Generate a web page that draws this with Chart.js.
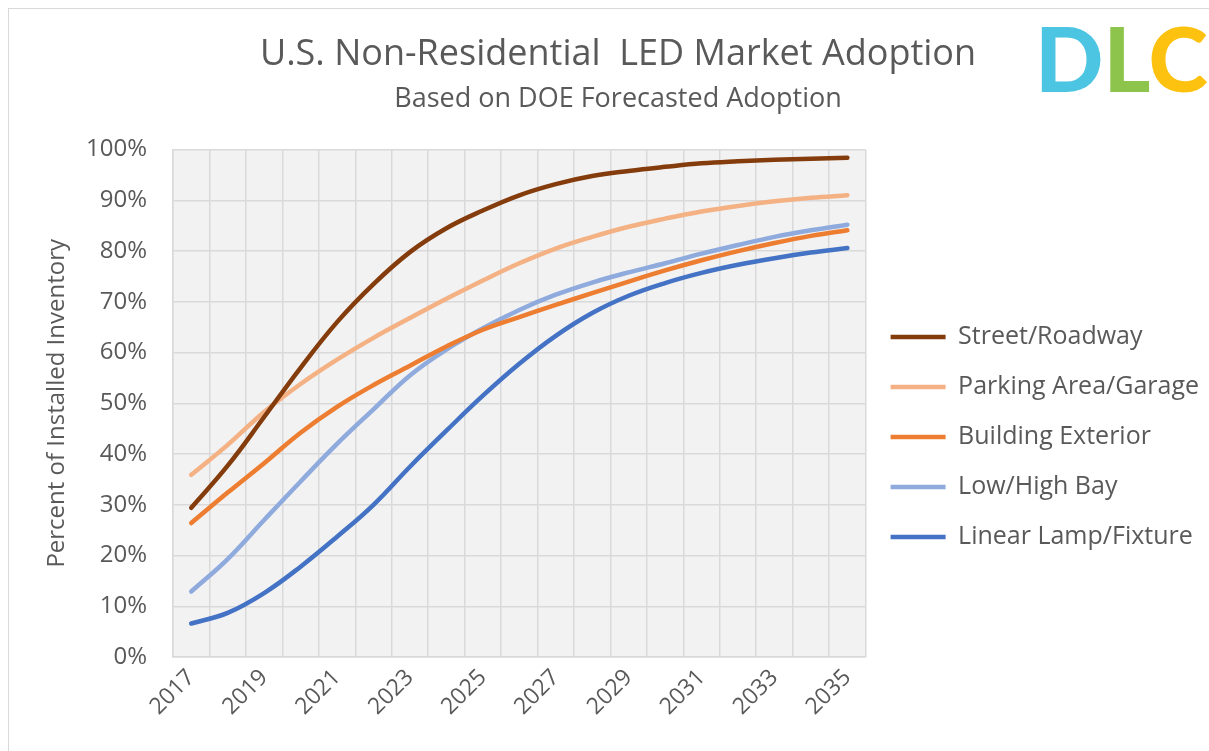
<!DOCTYPE html>
<html lang="en">

<head>
    <meta charset="UTF-8">
    <title>U.S. Non-Residential LED Market Adoption</title>
    <script src="https://cdn.jsdelivr.net/npm/chart.js"></script>
    <style>
        html, body { margin: 0; padding: 0; background: #fff; overflow: hidden; font-family: "Open Sans", sans-serif; }
        .frame {
            position: absolute; left: 8px; top: 8px; width: 1201px; height: 743px;
            border-top: 1px solid #d9d9d9; border-left: 1px solid #d9d9d9;
        }
        .chart-box { position: absolute; left: 0; top: 0; width: 1200px; height: 742px; }
        .logo {
            position: absolute; left: 1035px; top: 12px; white-space: nowrap;
            font-family: Lato, sans-serif; font-weight: 900; font-size: 90px; line-height: 1;
        }
    </style>
</head>

<body>
    <div class="frame">
        <div class="chart-box"><canvas id="adoptionChart"></canvas></div>
    </div>
    <div class="logo"><span style="color:#4cc5e2">D</span><span style="color:#8cc44c">L</span><span style="color:#fdc210">C</span></div>

    <script>
        // values (% of installed inventory)
        const years = ['2017', '2018', '2019', '2020', '2021', '2022', '2023', '2024', '2025', '2026',
            '2027', '2028', '2029', '2030', '2031', '2032', '2033', '2034', '2035'];
        const street = [29.4, 37.7, 47.3, 57.0, 66.0, 73.5, 79.8, 84.5, 88.0, 91.0,
            93.2, 94.8, 95.8, 96.6, 97.3, 97.7, 98.0, 98.2, 98.4];
        const parking = [35.9, 41.8, 48.3, 53.8, 58.6, 62.9, 66.8, 70.6, 74.2, 77.6,
            80.5, 82.8, 84.8, 86.4, 87.8, 88.9, 89.8, 90.5, 91.0];
        const building = [26.4, 32.4, 38.2, 44.2, 49.3, 53.6, 57.4, 61.2, 64.5, 67.0,
            69.4, 71.7, 74.0, 76.2, 78.2, 80.0, 81.6, 83.0, 84.1];
        const lowHighBay = [12.9, 19.3, 27.0, 34.6, 42.0, 48.8, 55.5, 60.6, 64.8, 68.4,
            71.4, 73.8, 75.8, 77.6, 79.5, 81.2, 82.8, 84.1, 85.2];
        const linearLamp = [6.6, 8.7, 12.6, 17.8, 23.7, 30.0, 37.5, 44.6, 51.5, 57.8,
            63.3, 67.8, 71.2, 73.7, 75.7, 77.3, 78.6, 79.7, 80.6];
        const yTicks = [0, 10, 20, 30, 40, 50, 60, 70, 80, 90, 100];

        const textColor = '#595959';
        const gridColor = '#d9d9d9';

        // grey plot background like the Excel chart
        const plotBackground = {
            id: 'plotBackground',
            beforeDraw(chart) {
                const { ctx, chartArea } = chart;
                ctx.save();
                ctx.fillStyle = '#f2f2f2';
                ctx.fillRect(chartArea.left, chartArea.top, chartArea.width, chartArea.height);
                ctx.restore();
            }
        };

        function series(label, data, color) {
            return {
                label: label,
                data: data,
                borderColor: color,
                backgroundColor: color,
                borderWidth: 4.5,
                borderCapStyle: 'round',
                pointRadius: 0,
                pointHoverRadius: 0,
                tension: 0.4,
                fill: false
            };
        }

        function drawChart() {
            Chart.defaults.font.family = '"Open Sans", sans-serif';
            Chart.defaults.color = textColor;

            const ctx = document.getElementById('adoptionChart').getContext('2d');
            return new Chart(ctx, {
                type: 'line',
                data: {
                    labels: years,
                    datasets: [
                        series('Street/Roadway', street, '#843c0c'),
                        series('Parking Area/Garage', parking, '#f4b183'),
                        series('Building Exterior', building, '#ed7d31'),
                        series('Low/High Bay', lowHighBay, '#8faadc'),
                        series('Linear Lamp/Fixture', linearLamp, '#4472c4')
                    ]
                },
                options: {
                    responsive: true,
                    maintainAspectRatio: false,
                    animation: false,
                    layout: { padding: { left: 18, right: 0, top: 0, bottom: 0 } },
                    plugins: {
                        title: {
                            display: true,
                            text: 'U.S. Non-Residential  LED Market Adoption',
                            color: textColor,
                            font: { size: 36, weight: 'normal' },
                            padding: { top: 24, bottom: 0 }
                        },
                        subtitle: {
                            display: true,
                            text: 'Based on DOE Forecasted Adoption',
                            color: textColor,
                            font: { size: 27 },
                            padding: { top: 7, bottom: 34 }
                        },
                        legend: {
                            position: 'right',
                            align: 'center',
                            maxWidth: 420,
                            // empty title only pushes the column of items down to where the reference has it
                            title: { display: true, text: ' ', font: { size: 10 }, padding: { top: 102, bottom: 0 } },
                            labels: {
                                usePointStyle: true,
                                pointStyle: 'line',
                                pointStyleWidth: 55,
                                padding: 25,
                                color: textColor,
                                font: { size: 25 }
                            }
                        },
                        tooltip: { enabled: false }
                    },
                    scales: {
                        x: {
                            offset: true,
                            grid: { offset: true, color: gridColor, lineWidth: 1.5, drawTicks: false },
                            border: { color: gridColor, width: 1.5 },
                            ticks: {
                                autoSkip: false,
                                minRotation: 45,
                                maxRotation: 45,
                                padding: 7,
                                font: { size: 23 },
                                callback: function (value, index) {
                                    return index % 2 === 0 ? this.getLabelForValue(value) : '';
                                }
                            },
                            afterFit: function (scale) { scale.height = 94; }
                        },
                        y: {
                            min: yTicks[0],
                            max: yTicks[yTicks.length - 1],
                            grid: { color: gridColor, lineWidth: 1.5, drawTicks: false },
                            border: { color: gridColor, width: 1.5 },
                            afterBuildTicks: function (scale) {
                                scale.ticks = yTicks.map(v => ({ value: v }));
                            },
                            ticks: {
                                padding: 26,
                                font: { size: 24 },
                                callback: v => v + '%'
                            },
                            title: {
                                display: true,
                                text: 'Percent of Installed Inventory',
                                color: textColor,
                                font: { size: 24 },
                                padding: { top: 16, bottom: 0 }
                            },
                            afterFit: function (scale) { scale.width = 146; }
                        }
                    }
                },
                plugins: [plotBackground]
            });
        }

        // make sure the installed font is ready before Chart.js measures the legend
        const fontsReady = document.fonts && document.fonts.load
            ? Promise.all([
                document.fonts.load('25px "Open Sans"'),
                document.fonts.load('900 90px Lato')
            ])
            : Promise.resolve();
        fontsReady.then(drawChart, drawChart);
    </script>
</body>

</html>
